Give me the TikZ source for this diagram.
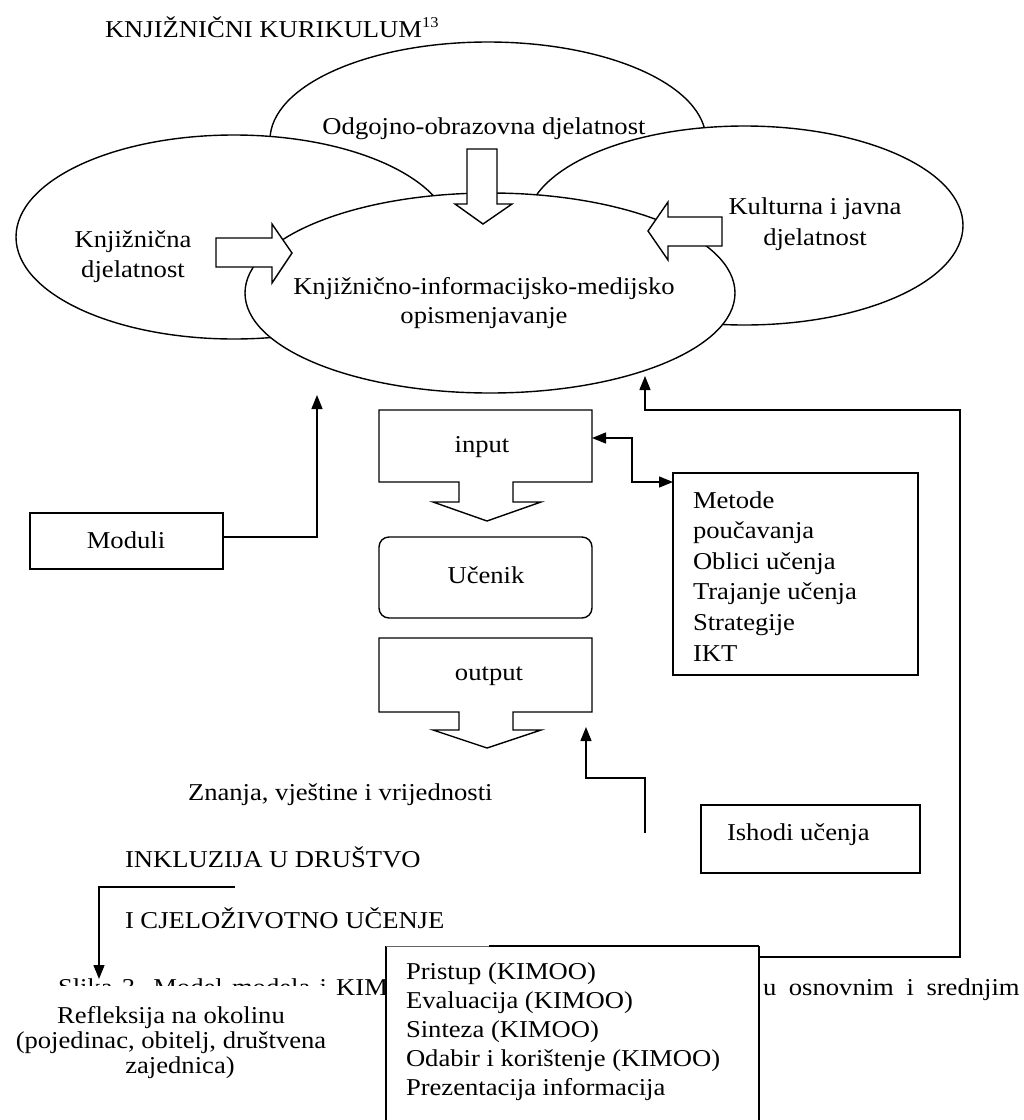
\documentclass[tikz,border=0pt]{standalone}
\usepackage{fontspec}
\setmainfont{Liberation Serif}[FakeStretch=1.1]
\usetikzlibrary{shapes.geometric,arrows.meta,calc}
\newcommand\mainfnt{\fontsize{24.2}{27.8}\selectfont}
\begin{document}
\begin{tikzpicture}[x=1pt,y=-1pt, line width=1.4pt,
  every node/.style={inner sep=0pt, outer sep=0pt},
  ell/.style={ellipse, draw, fill=white},
  box/.style={rectangle, draw, fill=white},
  t/.style={anchor=base, font=\mainfnt},
  tl/.style={anchor=base west, font=\mainfnt},
  arr/.style={-{Triangle[length=14pt,width=11pt]}},
  darr/.style={{Triangle[length=14pt,width=11pt]}-{Triangle[length=14pt,width=11pt]}},
  blk/.style={draw, fill=white, line join=miter}]
\useasboundingbox (0,0) rectangle (1024,1120);

% title
\node[tl] (title) at (105,37) {KNJIŽNIČNI KURIKULUM\raisebox{10pt}{\fontsize{15}{15}\selectfont 13}};

% ellipses
\node[ell, minimum width=436pt, minimum height=196pt] (eTop) at (488,140) {};
\node[ell, minimum width=436pt, minimum height=204pt] (eLeft) at (234,237) {};
\node[ell, minimum width=437pt, minimum height=199pt] (eRight) at (744.5,225.5) {};
\node[ell, minimum width=490pt, minimum height=200pt] (eMid) at (490,293) {};

\node[t] (tOdg) at (484,134) {Odgojno-obrazovna djelatnost};
\node[t] (tKnj1) at (133,247) {Knjižnična};
\node[t] (tKnj2) at (133,277) {djelatnost};
\node[t] (tKul1) at (815,214) {Kulturna i javna};
\node[t] (tKul2) at (815,245) {djelatnost};
\node[t] (tMid1) at (484,294) {Knjižnično-informacijsko-medijsko};
\node[t] (tMid2) at (484,323) {opismenjavanje};

% block arrows
\draw[blk] (467,149) -- (497,149) -- (497,204) -- (512,204) -- (483,224) -- (455,204) -- (467,204) -- cycle;
\draw[blk] (216,238) -- (272,238) -- (272,224) -- (292,253) -- (272,283) -- (272,267) -- (216,267) -- cycle;
\draw[blk] (722,217) -- (668,217) -- (668,202) -- (648,231) -- (668,260) -- (668,246) -- (722,246) -- cycle;

% input / ucenik / output
\draw[blk] (379,410) -- (592,410) -- (592,482) -- (513,482) -- (513,502) -- (541,502) -- (487,521) -- (433,502) -- (459,502) -- (459,482) -- (379,482) -- cycle;
\node[t] (tIn) at (482,452) {input};
\coordinate (inR) at (592,438);

\node[box, rounded corners=10pt, minimum width=213pt, minimum height=81pt] (ucenik) at (485.5,577.5) {};
\node[t] (tUc) at (486,583) {Učenik};

\draw[blk] (379,638) -- (592,638) -- (592,712) -- (513,712) -- (513,730) -- (541,730) -- (487,748) -- (433,730) -- (459,730) -- (459,712) -- (379,712) -- cycle;
\node[t] (tOut) at (489,680) {output};

% Moduli
\node[box, minimum width=193pt, minimum height=56pt] (moduli) at (126.5,541) {};
\node[t] (tMod) at (126,548) {Moduli};
\coordinate (modEnd) at (317,395);
\draw[arr] ([yshift=4pt]moduli.east) -| (modEnd);

% Metode
\node[box, minimum width=245pt, minimum height=202pt] (metode) at (795.5,574) {};
\node[tl] (m1) at (693,508) {Metode};
\node[tl] (m2) at (693,538.6) {poučavanja};
\node[tl] (m3) at (693,569.2) {Oblici učenja};
\node[tl] (m4) at (693,599.8) {Trajanje učenja};
\node[tl] (m5) at (693,630.4) {Strategije};
\node[tl] (m6) at (693,661) {IKT};
\coordinate (dj) at (632,482);
\draw[darr] (inR) -| (dj) -- ([yshift=-9pt]metode.north west);

% Ishodi
\node[box, minimum width=219pt, minimum height=68pt] (ishodi) at (810.5,839) {};
\node[tl] (tIsh) at (727,840) {Ishodi učenja};
\coordinate (ishA) at (645,833);
\coordinate (outArr) at (586,727);
\draw[arr] (ishA) -- (645,778) -| (outArr);

% left lower texts
\node[tl] (tZn) at (188,800) {Znanja, vještine i vrijednosti};
\node[tl] (tInk) at (125,867) {INKLUZIJA U DRUŠTVO};
\node[tl] (tCje) at (125,928) {I CJELOŽIVOTNO UČENJE};
\coordinate (brA) at (235,887);
\coordinate (brEnd) at (99,979);
\draw[arr] (brA) -| (brEnd);

% caption (partly covered)
\node[tl] (cap1) at (58,995) {\spaceskip=9.2pt Slika 3. Model modela i KIMOO};
\node[tl] (cap2) at (763,995) {\spaceskip=12.6pt u osnovnim i srednjim};

% Refleksija
\node[fill=white, minimum width=326pt, minimum height=104pt] (refl) at (173,1038) {};
\node[t] (r1) at (171,1023) {Refleksija na okolinu};
\node[t] (r2) at (171,1048) {(pojedinac, obitelj, društvena};
\node[t] (r3) at (180,1073) {zajednica)};

% Pristup box
\node[rectangle, fill=white, minimum width=373pt, minimum height=200pt] (pristup) at (572.5,1046) {};
\draw (pristup.north west) -- (pristup.south west);
\draw (pristup.north east) -- (pristup.south east);
\draw ([xshift=103pt]pristup.north west) -- (pristup.north east);
\draw[line width=0.7pt, black!60] (pristup.north west) -- ([xshift=103pt]pristup.north west);
\node[tl] (p1) at (406,979) {Pristup (KIMOO)};
\node[tl] (p2) at (406,1008) {Evaluacija (KIMOO)};
\node[tl] (p3) at (406,1037) {Sinteza (KIMOO)};
\node[tl] (p4) at (406,1066) {Odabir i korištenje (KIMOO)};
\node[tl] (p5) at (406,1095) {Prezentacija informacija};

% feedback loop
\coordinate (fbEnd) at (645,376);
\draw[arr] ([yshift=-11pt]pristup.north east) -- (960,957) -- (960,410) -| (fbEnd);
\end{tikzpicture}
\end{document}
